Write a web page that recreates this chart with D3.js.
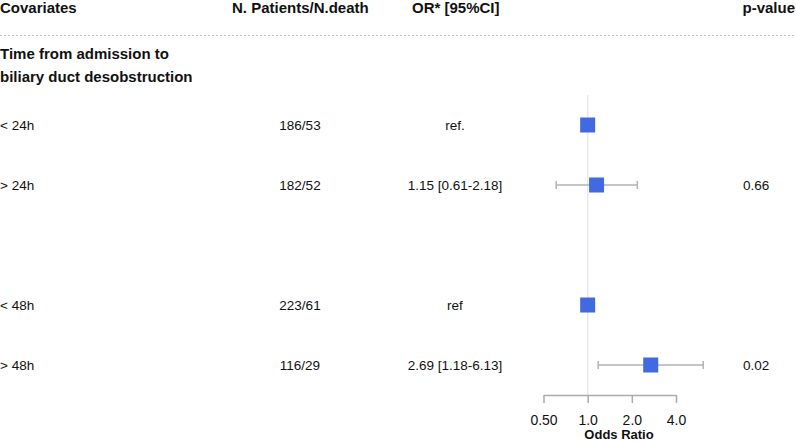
<!DOCTYPE html>
<html>
<head>
<meta charset="utf-8">
<script src="https://cdn.jsdelivr.net/npm/d3@7"></script>
<style>
  body { margin: 0; background: #fff; }
  svg { font-family: "Liberation Sans", Arial, sans-serif; }
</style>
</head>
<body>
<div id="chartArea"></div>
<script>
const w = 796;
const h = 441;

// data
const rowIds = ["head", "lt24", "gt24", "blank", "lt48", "gt48"];
const labels = ["< 24h", "> 24h", "< 48h", "> 48h"];
const labelRows = ["lt24", "gt24", "lt48", "gt48"];
const patients = ["186/53", "182/52", "223/61", "116/29"];
const orText = ["ref.", "1.15 [0.61-2.18]", "ref", "2.69 [1.18-6.13]"];
const orValue = [1, 1.15, 1, 2.69];
const ciLow = [null, 0.61, null, 1.18];
const ciHigh = [null, 2.18, null, 6.13];
const pValues = ["", "0.66", "", "0.02"];
const headers = ["Covariates", "N. Patients/N.death", "OR* [95%CI]", "p-value"];
const groupTitle = ["Time from admission to", "biliary duct desobstruction"];
const tickVals = [0.5, 1, 2, 4];
const tickLabels = ["0.50", "1.0", "2.0", "4.0"];

const rows = labels.map((l, i) => ({
    label: l, row: labelRows[i], n: patients[i], or: orText[i],
    est: orValue[i], lo: ciLow[i], hi: ciHigh[i], p: pValues[i]
}));

const svg = d3.select("#chartArea")
    .append("svg")
    .attr("width", w)
    .attr("height", h);

const y = d3.scalePoint()
    .domain(rowIds)
    .range([65, 365]);

const x = d3.scaleLog()
    .domain([0.5, 4])
    .range([543.5, 676]);

const colN = 300;
const colOR = 455;
const colP = 743;
const axisY = 395;

// header
const headG = svg.append("g")
    .attr("font-size", 15)
    .attr("font-weight", "bold")
    .attr("fill", "#111");
headG.append("text").attr("x", 0).attr("y", 13).text(headers[0]);
headG.append("text").attr("x", 232).attr("y", 13).text(headers[1]);
headG.append("text").attr("x", 412).attr("y", 13).text(headers[2]);
headG.append("text").attr("x", 795).attr("y", 13).attr("text-anchor", "end").text(headers[3]);

svg.append("line")
    .attr("x1", 0).attr("x2", w)
    .attr("y1", 35.5).attr("y2", 35.5)
    .attr("stroke", "#bbb")
    .attr("stroke-width", 1)
    .attr("stroke-dasharray", "2,2");

// group title
svg.append("g")
    .attr("font-size", 15)
    .attr("font-weight", "bold")
    .attr("fill", "#111")
    .selectAll("text")
    .data(groupTitle)
    .enter()
    .append("text")
    .attr("x", 0)
    .attr("y", (d, i) => y("head") - 11 + i * 23)
    .attr("dy", "0.35em")
    .text(d => d);

// reference line at OR = 1
svg.append("line")
    .attr("x1", x(1)).attr("x2", x(1))
    .attr("y1", 95).attr("y2", axisY)
    .attr("stroke", "#e8e8e8")
    .attr("stroke-width", 1.5);

// table text
const rowG = svg.append("g")
    .attr("font-size", 13.5)
    .attr("fill", "#111");

const rowSel = rowG.selectAll("g")
    .data(rows)
    .enter()
    .append("g")
    .attr("transform", d => `translate(0,${y(d.row)})`);

rowSel.append("text").attr("x", 0).attr("dy", "0.35em").text(d => d.label);
rowSel.append("text").attr("x", colN).attr("dy", "0.35em").attr("text-anchor", "middle").text(d => d.n);
rowSel.append("text").attr("x", colOR).attr("dy", "0.35em").attr("text-anchor", "middle").text(d => d.or);
rowSel.append("text").attr("x", colP).attr("dy", "0.35em").text(d => d.p);

// error bars
const ci = svg.append("g")
    .attr("stroke", "#b3b3b3")
    .attr("stroke-width", 1.5)
    .selectAll("g")
    .data(rows.filter(d => d.lo !== null))
    .enter()
    .append("g");

ci.append("line")
    .attr("x1", d => x(d.lo)).attr("x2", d => x(d.hi))
    .attr("y1", d => y(d.row)).attr("y2", d => y(d.row));
ci.append("line")
    .attr("x1", d => x(d.lo)).attr("x2", d => x(d.lo))
    .attr("y1", d => y(d.row) - 4).attr("y2", d => y(d.row) + 4);
ci.append("line")
    .attr("x1", d => x(d.hi)).attr("x2", d => x(d.hi))
    .attr("y1", d => y(d.row) - 4).attr("y2", d => y(d.row) + 4);

// point estimates
const sq = 15;
svg.append("g")
    .selectAll("rect")
    .data(rows)
    .enter()
    .append("rect")
    .attr("x", d => x(d.est) - sq / 2)
    .attr("y", d => y(d.row) - sq / 2)
    .attr("width", sq)
    .attr("height", sq)
    .attr("fill", "#4169e1");

// axis
const xAxis = d3.axisBottom(x)
    .tickValues(tickVals)
    .tickFormat((d, i) => tickLabels[i])
    .tickSize(8)
    .tickSizeOuter(0)
    .tickPadding(12);

const axG = svg.append("g")
    .attr("transform", `translate(0,${axisY})`)
    .call(xAxis);
axG.select(".domain").attr("stroke", "#aaa").attr("stroke-width", 1.5);
axG.selectAll(".tick line").attr("stroke", "#aaa").attr("stroke-width", 1.5);
axG.selectAll(".tick text")
    .attr("font-size", 14)
    .attr("font-family", "Liberation Sans, Arial, sans-serif")
    .attr("fill", "#111");

svg.append("text")
    .attr("x", 619)
    .attr("y", 434)
    .attr("dy", "0.35em")
    .attr("text-anchor", "middle")
    .attr("font-size", 13)
    .attr("font-weight", "bold")
    .attr("fill", "#111")
    .text("Odds Ratio");
</script>
</body>
</html>
